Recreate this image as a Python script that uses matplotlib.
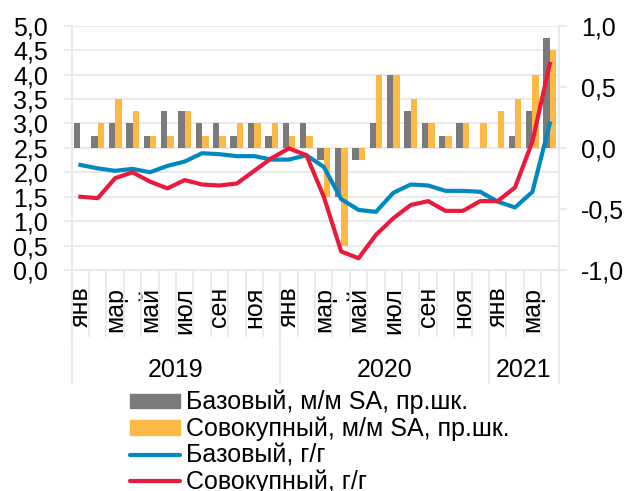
import matplotlib
matplotlib.use("Agg")
import matplotlib.pyplot as plt
import numpy as np
from matplotlib.ticker import FixedLocator, FuncFormatter, MultipleLocator
from matplotlib.patches import Patch
from matplotlib.lines import Line2D

plt.rcParams['font.family'] = ['Liberation Sans', 'DejaVu Sans']

months = ['янв', 'фев', 'мар', 'апр', 'май', 'июн', 'июл', 'авг', 'сен', 'окт', 'ноя', 'дек'] * 2 + \
         ['янв', 'фев', 'мар', 'апр']
years = ['2019', '2020', '2021']
year_counts = [12, 12, 4]

# m/m SA, right scale
core_mm = [0.2, 0.1, 0.2, 0.2, 0.1, 0.3, 0.3, 0.2, 0.2, 0.1, 0.2, 0.1,
           0.2, 0.2, -0.1, -0.4, -0.1, 0.2, 0.6, 0.3, 0.2, 0.1, 0.2, 0.0,
           0.0, 0.1, 0.3, 0.9]
total_mm = [0.0, 0.2, 0.4, 0.3, 0.1, 0.1, 0.3, 0.1, 0.1, 0.2, 0.2, 0.2,
            0.1, 0.1, -0.4, -0.8, -0.1, 0.6, 0.6, 0.4, 0.2, 0.1, 0.2, 0.2,
            0.3, 0.4, 0.6, 0.8]
# y/y, left scale
core_yy = [2.15, 2.08, 2.03, 2.07, 2.00, 2.13, 2.22, 2.39, 2.37, 2.33, 2.33, 2.26,
           2.26, 2.35, 2.11, 1.45, 1.23, 1.19, 1.58, 1.75, 1.73, 1.62, 1.62, 1.60,
           1.40, 1.28, 1.60, 3.00]
total_yy = [1.50, 1.47, 1.88, 2.00, 1.81, 1.67, 1.84, 1.75, 1.73, 1.77, 2.03, 2.29,
            2.49, 2.35, 1.50, 0.38, 0.24, 0.72, 1.06, 1.33, 1.41, 1.21, 1.21, 1.41,
            1.41, 1.69, 2.63, 4.22]

labels = ['Базовый, м/м SA, пр.шк.', 'Совокупный, м/м SA, пр.шк.',
          'Базовый, г/г', 'Совокупный, г/г']

C_GRAY = '#7a7a7d'
C_ORANGE = '#fdb945'
C_BLUE = '#0089c1'
C_RED = '#ea1a3c'
C_GRID = '#e8e8e8'
FS = 18

fig = plt.figure(figsize=(6.26, 4.91), dpi=100)
ax = fig.add_axes([71.7 / 626, 1 - 270 / 491, (558.5 - 71.7) / 626, (270 - 25.7) / 491])
ax2 = ax.twinx()
ax.set_zorder(ax2.get_zorder() + 1)
ax.patch.set_visible(False)

x = np.arange(len(months))
w = 0.37
ax2.bar(x - w / 2, core_mm, width=w, color=C_GRAY, zorder=3)
ax2.bar(x + w / 2, total_mm, width=w, color=C_ORANGE, zorder=3)
ax.plot(x, core_yy, color=C_BLUE, lw=3.0, zorder=4)
ax.plot(x, total_yy, color=C_RED, lw=3.0, zorder=5)

ax.set_ylim(0, 5)
ax2.set_ylim(-1, 1)
ax.set_xlim(-0.5, len(months) - 0.5)

fmt = FuncFormatter(lambda v, p: ('%.1f' % (0 if abs(v) < 1e-9 else v)).replace('.', ','))
ax.yaxis.set_major_locator(MultipleLocator(0.5))
ax.yaxis.set_major_formatter(fmt)
ax2.yaxis.set_major_locator(MultipleLocator(0.5))
ax2.yaxis.set_major_formatter(fmt)
ax2.yaxis.set_minor_locator(FixedLocator(np.linspace(-1, 1, 11)))
ax2.yaxis.remove_overlapping_locs = False
ax2.grid(True, which='minor', axis='y', color=C_GRID, lw=1.3, zorder=0)
ax2.set_axisbelow(True)

ax.tick_params(axis='y', which='major', length=6, width=1.2, color=C_GRID, pad=11, labelsize=FS)
ax2.tick_params(axis='y', which='major', length=6, width=1.2, color=C_GRID, pad=10, labelsize=FS)
ax2.tick_params(axis='y', which='minor', length=0)

# x axis: month labels every other month, separators between months
ax.xaxis.set_major_locator(FixedLocator(x[::2]))
ax.set_xticklabels([months[i] for i in x[::2]], rotation=90)
ax.xaxis.set_minor_locator(FixedLocator(np.arange(-0.5, len(months), 1.0)))
ax.tick_params(axis='x', which='major', length=0, pad=12, labelsize=FS)
ax.tick_params(axis='x', which='minor', length=48, width=1.2, color=C_GRID, direction='out')
ax2.tick_params(axis='x', which='both', length=0, labelbottom=False)

for a in (ax, ax2):
    a.spines['top'].set_visible(False)
    for s in ('left', 'right', 'bottom'):
        a.spines[s].set_color(C_GRID)
        a.spines[s].set_linewidth(1.2)

# year separators and labels
bounds = np.concatenate([[0], np.cumsum(year_counts)]) - 0.5
ax.vlines(bounds, -0.465, 0, transform=ax.get_xaxis_transform(), colors=C_GRID,
          lw=1.2, clip_on=False)
for i, yr in enumerate(years):
    ax.text((bounds[i] + bounds[i + 1]) / 2, -0.41, yr, transform=ax.get_xaxis_transform(),
            ha='center', va='center', fontsize=FS)

handles = [Patch(color=C_GRAY), Patch(color=C_ORANGE),
           Line2D([], [], color=C_BLUE, lw=3.0, solid_capstyle='round'),
           Line2D([], [], color=C_RED, lw=3.0, solid_capstyle='round')]
fig.legend(handles, labels, loc='upper left', bbox_to_anchor=(130 / 626, 1 - 390 / 491),
           frameon=False, fontsize=FS, handlelength=2.0, handleheight=0.5,
           handletextpad=0.25, labelspacing=0.09, borderpad=0, borderaxespad=0)

fig.savefig('out.png', dpi=100)
